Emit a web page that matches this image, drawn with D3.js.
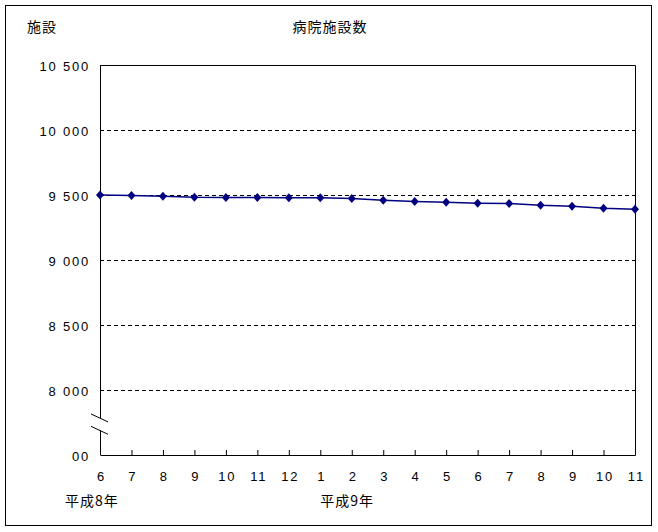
<!DOCTYPE html>
<html>
<head>
<meta charset="utf-8">
<script src="https://cdn.jsdelivr.net/npm/d3@7"></script>
<style>
  body { margin: 0; background: #fff; }
  svg { display: block; }
  text { font-family: "Liberation Sans", "Noto Sans CJK JP", sans-serif; fill: #000; }
  .jp { font-family: "Noto Sans CJK JP", sans-serif; letter-spacing: 1px; }
  .num { font-family: "Liberation Sans", sans-serif; font-size: 13px; letter-spacing: 1.8px; }
</style>
</head>
<body>
<div id="chart"></div>
<script>
// months, 平成8年6月 .. 平成9年11月
var months = ["6", "7", "8", "9", "10", "11", "12", "1", "2", "3", "4", "5", "6", "7", "8", "9", "10", "11"]
var hospitals = [9500, 9497, 9490, 9482, 9481, 9480, 9479, 9478, 9474, 9460, 9450, 9444, 9437, 9435, 9421, 9413, 9398, 9390]
var yTicks = [7500, 8000, 8500, 9000, 9500, 10000, 10500]
var yearLabels = [{ label: "平成8年", at: 0 }, { label: "平成9年", at: 7 }]

var W = 658, H = 532
var margin = { top: 65, right: 23, bottom: 77, left: 100 }
var plotW = W - margin.left - margin.right,
    plotH = H - margin.top - margin.bottom

var svg = d3.select("#chart").append("svg")
  .attr("width", W)
  .attr("height", H)

// outer frame
svg.append("rect")
  .attr("x", 5.5).attr("y", 5.5)
  .attr("width", 646).attr("height", 520)
  .attr("fill", "none").attr("stroke", "#000")

var x = d3.scaleLinear().domain([0, months.length - 1]).range([0, plotW])
var y = d3.scaleLinear().domain([7500, 10500]).range([plotH, 0])

var g = svg.append("g").attr("transform", "translate(" + margin.left + "," + margin.top + ")")

// grid lines
g.selectAll("line.grid")
  .data(yTicks.filter(function (d) { return d > 7500 && d < 10500 }))
  .enter().append("line")
  .attr("class", "grid")
  .attr("x1", 0).attr("x2", plotW)
  .attr("y1", function (d) { return Math.round(y(d)) + 0.5 })
  .attr("y2", function (d) { return Math.round(y(d)) + 0.5 })
  .attr("stroke", "#000").attr("stroke-dasharray", "4,3")

// top and right frame
g.append("path")
  .attr("d", "M0.5,0.5H" + (plotW + 0.5) + "V" + (plotH + 0.5))
  .attr("fill", "none").attr("stroke", "#000")

// x axis: ticks point up into the plot
var xAxis = d3.axisBottom(x)
  .tickValues(d3.range(months.length))
  .tickSizeInner(-5).tickSizeOuter(0)
  .tickPadding(17)
  .tickFormat(function (i) { return months[i] })
g.append("g")
  .attr("transform", "translate(0," + plotH + ")")
  .call(xAxis)
  .call(function (s) {
    s.select(".domain").attr("stroke", "#000")
    s.selectAll("text").attr("class", "num").attr("font-size", null).attr("font-family", null)
      .attr("dx", "0.9")
  })

// y axis
var fmt = function (d) { return d3.format(",")(d).replace(",", " ") }
var yAxis = d3.axisLeft(y)
  .tickValues(yTicks)
  .tickSize(0)
  .tickPadding(10)
  .tickFormat(fmt)
var yg = g.append("g").call(yAxis)
yg.select(".domain").remove()
yg.selectAll("text").attr("class", "num").attr("font-size", null).attr("font-family", null)
  .attr("dy", "0.45em")

// left axis line
g.append("line")
  .attr("x1", 0.5).attr("x2", 0.5)
  .attr("y1", 0).attr("y2", plotH)
  .attr("stroke", "#000")

// the bottom label is half hidden behind the break
yg.append("clipPath").attr("id", "clipLow")
  .append("rect").attr("x", -29).attr("y", -20).attr("width", 40).attr("height", 40)
yg.selectAll(".tick").filter(function (d) { return d === 7500 })
  .select("text").attr("clip-path", "url(#clipLow)")

// axis break
var breakTop = y(7785), breakBot = y(7690)
g.append("rect")
  .attr("x", -3).attr("y", breakTop)
  .attr("width", 6).attr("height", breakBot - breakTop)
  .attr("fill", "#fff")
g.selectAll("line.break")
  .data([breakTop, breakBot])
  .enter().append("line")
  .attr("class", "break")
  .attr("x1", -9).attr("x2", 8)
  .attr("y1", function (d) { return d - 4 })
  .attr("y2", function (d) { return d + 4 })
  .attr("stroke", "#000")

// series line
var line = d3.line()
  .x(function (d, i) { return x(i) })
  .y(function (d) { return y(d) })
g.append("path")
  .datum(hospitals)
  .attr("d", line)
  .attr("fill", "none")
  .attr("stroke", "#000080")
  .attr("stroke-width", 1.5)

// markers
g.selectAll("path.pt")
  .data(hospitals)
  .enter().append("path")
  .attr("class", "pt")
  .attr("transform", function (d, i) { return "translate(" + x(i) + "," + y(d) + ")" })
  .attr("d", "M0,-4.5L4,0L0,4.5L-4,0Z")
  .attr("fill", "#000080")

// year labels: the first sits left of its tick, the second starts at it
g.selectAll("text.year")
  .data(yearLabels)
  .enter().append("text")
  .attr("class", "year jp")
  .attr("x", function (d) { return x(d.at) - (d.at === 0 ? 35 : 0) })
  .attr("y", plotH + 51)
  .attr("font-size", 14)
  .text(function (d) { return d.label })

// unit and title
svg.append("text").attr("class", "jp")
  .attr("x", 27).attr("y", 32)
  .attr("font-size", 14)
  .text("施設")
svg.append("text").attr("class", "jp")
  .attr("x", 330).attr("y", 32)
  .attr("text-anchor", "middle")
  .attr("font-size", 14)
  .text("病院施設数")
</script>
</body>
</html>
